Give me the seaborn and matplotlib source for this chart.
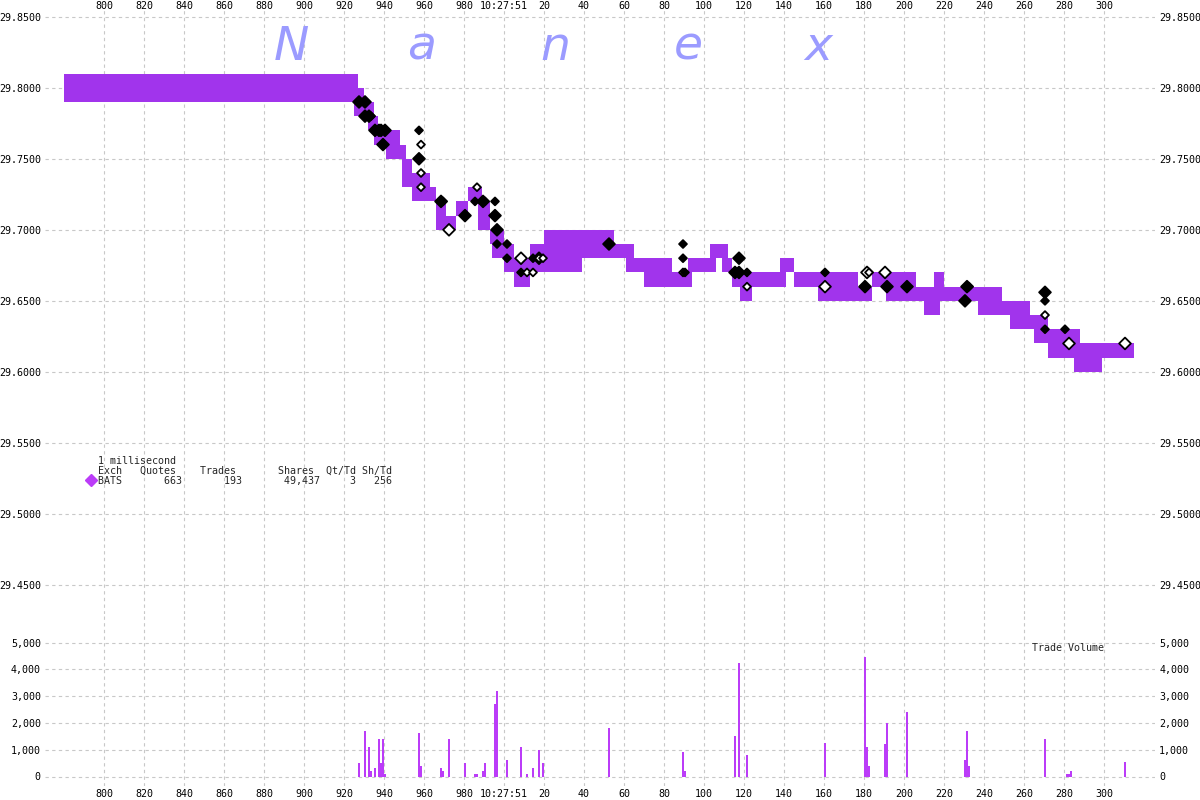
import numpy as np
import pandas as pd
import matplotlib
matplotlib.use("Agg")
import matplotlib.pyplot as plt
import seaborn as sns

sns.set_theme(style="white")
plt.rcParams['font.family'] = ['DejaVu Sans Mono', 'DejaVu Sans']

# BATS quotes: start ms (after 10:27:50), bid, ask
quote_ms = [780, 925, 927, 930, 932, 935, 937, 941, 948, 949, 951, 954, 963, 966,
            971, 976, 982, 987, 989, 993, 994, 1000, 1005, 1013, 1020, 1039, 1055,
            1061, 1065, 1070, 1084, 1092, 1094, 1103, 1106, 1109, 1112, 1114, 1118,
            1124, 1138, 1141, 1145, 1157, 1177, 1184, 1191, 1206, 1210, 1215, 1218,
            1220, 1237, 1249, 1253, 1263, 1265, 1272, 1285, 1288, 1299]
quote_bid = [29.79, 29.78, 29.78, 29.78, 29.77, 29.76, 29.76, 29.75, 29.75, 29.73, 29.73,
             29.72, 29.72, 29.70, 29.70, 29.71, 29.72, 29.70, 29.70, 29.69, 29.68, 29.67,
             29.66, 29.67, 29.67, 29.68, 29.68, 29.67, 29.67, 29.66, 29.66, 29.66, 29.67,
             29.67, 29.68, 29.67, 29.67, 29.66, 29.65, 29.66, 29.66, 29.67, 29.66, 29.65,
             29.65, 29.66, 29.65, 29.65, 29.64, 29.64, 29.65, 29.65, 29.64, 29.64, 29.63,
             29.63, 29.62, 29.61, 29.60, 29.60, 29.61]
quote_ask = [29.81, 29.81, 29.80, 29.79, 29.79, 29.78, 29.77, 29.77, 29.76, 29.76, 29.75,
             29.74, 29.73, 29.72, 29.71, 29.72, 29.73, 29.73, 29.72, 29.70, 29.70, 29.69,
             29.68, 29.69, 29.70, 29.70, 29.69, 29.69, 29.68, 29.68, 29.67, 29.68, 29.68,
             29.69, 29.69, 29.69, 29.68, 29.67, 29.67, 29.67, 29.68, 29.68, 29.67, 29.67,
             29.66, 29.67, 29.67, 29.66, 29.66, 29.67, 29.67, 29.66, 29.66, 29.65, 29.65,
             29.64, 29.64, 29.63, 29.63, 29.62, 29.62]
quote_end = 1315

# trades: ms, price, side (b = black, w = white), big marker
trade_ms = [927.5, 930.5, 930.5, 932.5, 933.5, 935.5, 937.5, 938.5, 939.5, 940.5,
            957.5, 957.5, 958.5, 958.5, 958.5, 968.5, 969.5, 972.5, 980.5, 985.5,
            986.5, 989.5, 990.5, 995.5, 995.5, 996.5, 996.5, 1001.5, 1001.5, 1008.5,
            1008.5, 1011.5, 1014.5, 1014.5, 1017.5, 1017.5, 1019.5, 1052.5, 1089.5, 1089.5,
            1089.5, 1090.5, 1115.5, 1117.5, 1117.5, 1121.5, 1121.5, 1160.5, 1160.5, 1180.5,
            1181.5, 1182.5, 1190.5, 1191.5, 1201.5, 1230.5, 1231.5, 1232.5, 1270.5, 1270.5,
            1270.5, 1270.5, 1280.5, 1282.5, 1310.5]
trade_px = [29.79, 29.79, 29.78, 29.78, 29.78, 29.77, 29.77, 29.77, 29.76, 29.77,
            29.77, 29.75, 29.76, 29.74, 29.73, 29.72, 29.72, 29.70, 29.71, 29.72,
            29.73, 29.72, 29.72, 29.72, 29.71, 29.70, 29.69, 29.69, 29.68, 29.68,
            29.67, 29.67, 29.68, 29.67, 29.68, 29.68, 29.68, 29.69, 29.69, 29.68,
            29.67, 29.67, 29.67, 29.68, 29.67, 29.67, 29.66, 29.67, 29.66, 29.66,
            29.67, 29.67, 29.67, 29.66, 29.66, 29.65, 29.66, 29.66, 29.656, 29.65,
            29.64, 29.63, 29.63, 29.62, 29.62]
trade_side = ['b', 'b', 'b', 'b', 'b', 'b', 'b', 'b', 'b', 'b',
              'b', 'b', 'w', 'w', 'w', 'b', 'b', 'w', 'b', 'b',
              'w', 'b', 'b', 'b', 'b', 'b', 'b', 'b', 'b', 'w',
              'b', 'w', 'b', 'w', 'b', 'w', 'w', 'b', 'b', 'b',
              'w', 'b', 'b', 'b', 'b', 'b', 'w', 'b', 'w', 'b',
              'w', 'w', 'w', 'b', 'b', 'b', 'b', 'b', 'b', 'b',
              'w', 'b', 'b', 'w', 'w']
trade_big = [1, 1, 1, 1, 0, 1, 1, 1, 1, 1,
             0, 1, 0, 0, 0, 1, 0, 1, 1, 0,
             0, 1, 0, 0, 1, 1, 0, 0, 0, 1,
             0, 0, 0, 0, 1, 0, 0, 1, 0, 0,
             0, 0, 1, 1, 1, 0, 0, 0, 1, 1,
             1, 0, 1, 1, 1, 1, 1, 0, 1, 0,
             0, 0, 0, 1, 1]

# trade volume per millisecond
vol_ms = [927, 930, 932, 933, 935, 937, 938, 939, 940, 957, 958, 968, 969, 972, 980,
          985, 986, 989, 990, 995, 996, 1001, 1008, 1011, 1014, 1017, 1019, 1052, 1089,
          1090, 1115, 1117, 1121, 1160, 1180, 1181, 1182, 1190, 1191, 1201, 1230, 1231,
          1232, 1270, 1281, 1282, 1283, 1310]
vol_sh = [500, 1700, 1100, 200, 310, 1400, 500, 1400, 100, 1625, 400, 310, 200, 1400, 500,
          100, 100, 200, 500, 2700, 3200, 610, 1100, 100, 310, 1000, 500, 1800, 900,
          200, 1500, 4250, 800, 1250, 4450, 1100, 400, 1200, 2000, 2400, 600, 1700,
          400, 1400, 100, 100, 200, 530]

x_ticks = list(range(800, 1301, 20))
x_labels = ["10:27:51" if t == 1000 else str(t % 1000) for t in x_ticks]
price_ticks = [29.45, 29.50, 29.55, 29.60, 29.65, 29.70, 29.75, 29.80, 29.85]
vol_ticks = [0, 1000, 2000, 3000, 4000, 5000]

exch, n_quotes, n_trades, n_shares, qt_td, sh_td = "BATS", 663, 193, 49437, 3, 256

band_col = "#a134ec"
bar_col = "#bb3cf8"
grid_col = "#c8c8c8"

W, H = 1200, 800
fig = plt.figure(figsize=(12, 8), dpi=100)


def box(left, top, right, bottom):
    return [left / W, 1 - bottom / H, (right - left) / W, (bottom - top) / H]


# pixel -> value helpers for the limits
def price_at(py):
    return 29.85 - (py - 16.7) / 1420.75


def vol_at(py):
    return (776.5 - py) * 5000 / 133.8


def px_ms(px):
    return 800 + (px - 104) / 2


ax = fig.add_axes(box(45, 10, 1155, 614))
axv = fig.add_axes(box(45, 614, 1155, 786))

# quote band
qx = quote_ms + [quote_end]
qb = quote_bid + [quote_bid[-1]]
qa = quote_ask + [quote_ask[-1]]
ax.fill_between(qx, qb, qa, step="post", color=band_col, linewidth=0, zorder=2)

trades = pd.DataFrame({"ms": trade_ms, "price": trade_px,
                       "side": trade_side, "big": trade_big})
sns.scatterplot(data=trades, x="ms", y="price", hue="side",
                palette={"b": "black", "w": "white"}, size="big",
                sizes={0: 16, 1: 36}, marker="D", edgecolor="black",
                linewidth=1.3, legend=False, ax=ax, zorder=3)

vols = pd.DataFrame({"ms": vol_ms, "shares": vol_sh})
sns.histplot(data=vols, x="ms", weights="shares", binwidth=1, binrange=(770, 1326),
             color=bar_col, alpha=1, edgecolor="none", linewidth=0, ax=axv, zorder=2)

for a in (ax, axv):
    a.set_xlim(px_ms(45), px_ms(1155))
    a.set_xticks(x_ticks)
    a.set_xticklabels(x_labels)
    a.set_xlabel("")
    a.set_ylabel("")
    a.set_facecolor("none")
    a.set_axisbelow(True)
    a.grid(True, color=grid_col, linestyle=(0, (3, 3)), linewidth=0.8)
    for s in a.spines.values():
        s.set_visible(False)
    a.tick_params(length=0, labelsize=7.2, colors="black",
                  labelleft=True, labelright=True)
    a.tick_params(axis="y", pad=3)

ax.set_ylim(price_at(614), price_at(10))
ax.set_yticks(price_ticks)
ax.set_yticklabels([f"{v:.4f}" for v in price_ticks])
ax.tick_params(axis="x", labeltop=True, labelbottom=False, pad=-0.5)

axv.set_ylim(vol_at(786), vol_at(614))
axv.set_yticks(vol_ticks)
axv.set_yticklabels([f"{v:,}" for v in vol_ticks])
axv.tick_params(axis="x", labeltop=False, labelbottom=True, pad=2)

# watermark
for letter, cx in zip("Nanex", [291, 422, 555, 688, 818]):
    fig.text(cx / W, 1 - 60 / H, letter, ha="center", va="baseline",
             fontsize=34, style="italic", color="#9b9bff", family="DejaVu Sans")

# stats box
fig.text(98 / W, 1 - 461 / H, "1 millisecond", fontsize=7.2, va="center")
header = f"{'Exch':<7}{'Quotes':<10}{'Trades':<13}{'Shares':<8}{'Qt/Td':<6}{'Sh/Td'}"
row = f"{exch:<4}{n_quotes:>10}{n_trades:>10}{n_shares:>13,}{qt_td:>6}{sh_td:>6}"
fig.text(98 / W, 1 - 471 / H, header, fontsize=7.2, va="center")
fig.text(98 / W, 1 - 481 / H, row, fontsize=7.2, va="center")
fig.add_artist(plt.Line2D([91 / W], [1 - 480 / H], marker="D", markersize=6.5,
                          color=bar_col, linestyle="none", transform=fig.transFigure))

fig.text(1032 / W, 1 - 648 / H, "Trade Volume", fontsize=7.2, va="center")

fig.savefig("out.png", dpi=100, facecolor="white")
